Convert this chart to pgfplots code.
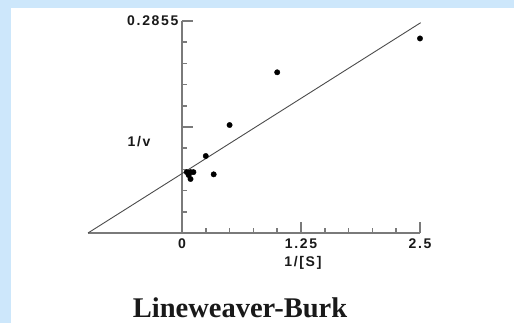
\documentclass[border=0pt]{standalone}
\usepackage{fontspec}
\setmainfont{Liberation Sans}
\newfontfamily\tickfont[LetterSpace=12]{Liberation Sans}
\newfontfamily\titlefont{Liberation Serif}
\usepackage{pgfplots}
\pgfplotsset{compat=1.18}
\definecolor{bgblue}{HTML}{CDE7FB}
\definecolor{axgray}{HTML}{7A7A7A}
\newcommand\tf{\tickfont\bfseries\fontsize{14bp}{15bp}\selectfont}
\begin{document}
\begin{tikzpicture}[x=1bp,y=1bp]
\fill[bgblue] (0,0) rectangle (514,323);
\fill[white] (11,0) rectangle (514,315);
\begin{axis}[
  at={(88bp,90bp)}, anchor=south west,
  scale only axis, width=332bp, height=212bp,
  xmin=-0.987, xmax=2.5, ymin=0, ymax=0.2855,
  axis x line=bottom, axis y line=middle,
  axis line style={-, axgray, line width=2.2bp},
  clip=false,
  xtick={0,1.25,2.5}, xticklabels={0,1.25,2.5},
  minor xtick={0.25,0.5,0.75,1,1.5,1.75,2,2.25},
  ytick={0.14275,0.2855}, yticklabels={,0.2855},
  minor ytick={0.02855,0.0571,0.08565,0.1142,0.1713,0.19985,0.2284,0.25695},
  tick align=inside,
  major tick length=11bp, minor tick length=5bp,
  tick style={axgray, line width=1.6bp},
  hide obscured x ticks=false,
  xticklabel style={font=\tf, text=black!90, yshift=-2bp},
  yticklabel style={font=\tf, text=black!90},
]
\addplot[color=black!70, line width=0.9bp] coordinates {(-0.987,0) (2.507,0.2832)};
\addplot[only marks, mark=*, mark size=2.7bp, black] coordinates {
  (2.5,0.262) (1.0,0.2164) (0.5,0.1454) (0.25,0.1037) (0.333,0.079)
  (0.05,0.082) (0.09,0.082) (0.12,0.082) (0.09,0.0727) (0.07,0.078)
};
\node[font=\tf, text=black!90] at (axis cs:-0.45,0.1225) {1/v};
\node[font=\tf, text=black!90] at (axis cs:1.27,-0.0404) {1/[S]};
\end{axis}
\node[font=\titlefont\bfseries\fontsize{28.5bp}{31bp}\selectfont, text=black!90, anchor=base] at (240,5.5) {Lineweaver-Burk};
\pgfresetboundingbox
\useasboundingbox (0,0) rectangle (514,323);
\end{tikzpicture}
\end{document}
